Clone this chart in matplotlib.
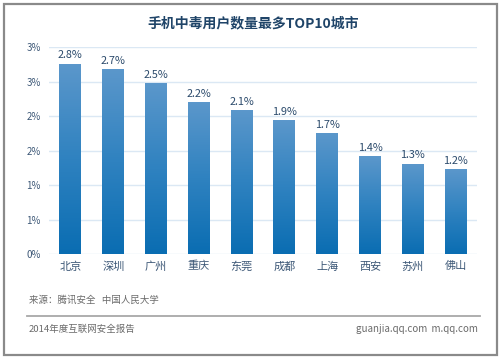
import matplotlib
matplotlib.use("Agg")
import matplotlib.pyplot as plt
import numpy as np
from matplotlib.colors import LinearSegmentedColormap
from matplotlib.patches import Rectangle
from matplotlib.lines import Line2D

plt.rcParams['font.family'] = ['Noto Sans CJK SC', 'DejaVu Sans']

title = "手机中毒用户数量最多TOP10城市"
cities = ["北京", "深圳", "广州", "重庆", "东莞", "成都", "上海", "西安", "苏州", "佛山"]
values = [2.75, 2.67, 2.47, 2.19, 2.08, 1.93, 1.74, 1.41, 1.30, 1.22]
yticks = [0, 0.5, 1.0, 1.5, 2.0, 2.5, 3.0]
ytick_labels = ["0%", "1%", "1%", "2%", "2%", "3%", "3%"]
source_text = "来源：腾讯安全   中国人民大学"
footer_left = "2014年度互联网安全报告"
footer_right = "guanjia.qq.com  m.qq.com"

fig = plt.figure(figsize=(5.0, 3.59), dpi=100)
ax = fig.add_axes([0.098, 0.2916, 0.856, 0.5766])

x = np.arange(len(cities))
bars = ax.bar(x, values, width=0.51, color='none', edgecolor='none', zorder=3)

cmap = LinearSegmentedColormap.from_list("g", ["#0a6db2", "#2f82c0", "#5b97cb"])
grad = np.linspace(0, 1, 256).reshape(-1, 1)
for b in bars:
    x0, w, h = b.get_x(), b.get_width(), b.get_height()
    ax.imshow(grad, cmap=cmap, origin='lower', aspect='auto', interpolation='nearest',
              extent=(x0, x0 + w, 0, h), zorder=3)

for xi, v in zip(x, values):
    ax.text(xi, v + 0.06, f"{v:.1f}%", ha='center', va='bottom',
            fontsize=7.8, color='#2b4a6b', zorder=5)

ax.set_xlim(-0.5, len(cities) - 0.5)
ax.set_ylim(0, 3.0)
ax.set_yticks(yticks)
ax.set_yticklabels(ytick_labels, fontsize=7, color='#3d5877')
ax.set_xticks(x)
ax.set_xticklabels(cities, fontsize=8, color='#3d5877')
ax.tick_params(axis='both', length=0, pad=6)
ax.tick_params(axis='x', pad=5)
for s in ax.spines.values():
    s.set_visible(False)
ax.yaxis.grid(True, color='#dbe8f4', linewidth=1.0, zorder=0)
ax.set_axisbelow(True)

fig.text(0.506, 0.936, title, ha='center', va='center', fontsize=10,
         fontweight='bold', color='#1f4468')

fig.text(0.058, 0.164, source_text, ha='left', va='center', fontsize=6.8, color='#6a6a6a')
fig.add_artist(Line2D([0.054, 0.96], [0.121, 0.121], color='#a8a8a8', linewidth=1.3))
fig.text(0.058, 0.083, footer_left, ha='left', va='center', fontsize=6.8, color='#6a6a6a')
fig.text(0.956, 0.083, footer_right, ha='right', va='center', fontsize=7, color='#6a6a6a')

fig.add_artist(Rectangle((0.007, 0.01), 0.986, 0.978, fill=False,
                         edgecolor='#8a8a8a', linewidth=1.6,
                         transform=fig.transFigure))

fig.savefig("out.png", dpi=100)
